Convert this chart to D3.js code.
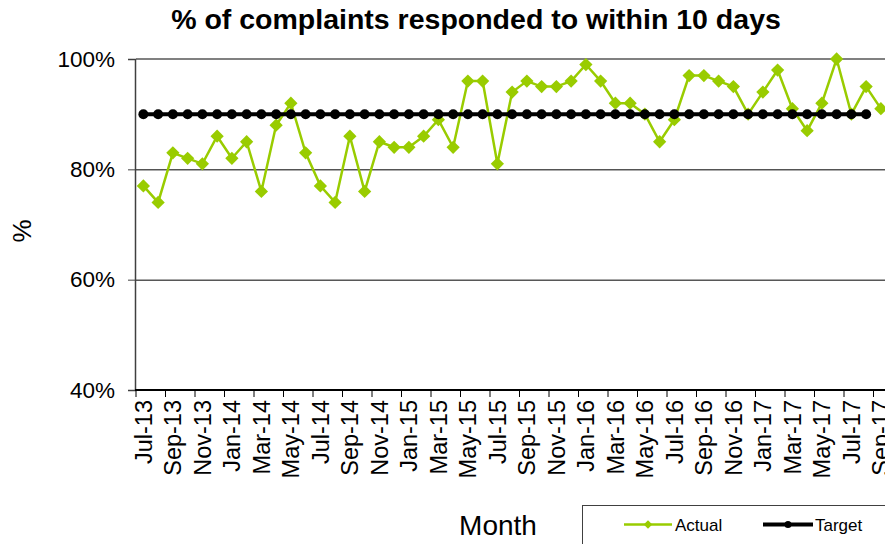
<!DOCTYPE html>
<html lang="en">
<head>
    <meta charset="UTF-8">
    <title>Complaints responded to within 10 days</title>
    <script src="https://d3js.org/d3.v7.min.js"></script>
    <style>
        body { margin: 0; background: #fff; }
        svg { display: block; font-family: "Liberation Sans", Arial, sans-serif; }
    </style>
</head>
<body>
    <div id="chart"></div>

    <script>
        // Months Jul-13 .. Sep-17
        const months = [
            "Jul-13", "Aug-13", "Sep-13", "Oct-13", "Nov-13", "Dec-13",
            "Jan-14", "Feb-14", "Mar-14", "Apr-14", "May-14", "Jun-14",
            "Jul-14", "Aug-14", "Sep-14", "Oct-14", "Nov-14", "Dec-14",
            "Jan-15", "Feb-15", "Mar-15", "Apr-15", "May-15", "Jun-15",
            "Jul-15", "Aug-15", "Sep-15", "Oct-15", "Nov-15", "Dec-15",
            "Jan-16", "Feb-16", "Mar-16", "Apr-16", "May-16", "Jun-16",
            "Jul-16", "Aug-16", "Sep-16", "Oct-16", "Nov-16", "Dec-16",
            "Jan-17", "Feb-17", "Mar-17", "Apr-17", "May-17", "Jun-17",
            "Jul-17", "Aug-17", "Sep-17"
        ];

        const actual = [
            77, 74, 83, 82, 81, 86,
            82, 85, 76, 88, 92, 83,
            77, 74, 86, 76, 85, 84,
            84, 86, 89, 84, 96, 96,
            81, 94, 96, 95, 95, 96,
            99, 96, 92, 92, 90, 85,
            89, 97, 97, 96, 95, 90,
            94, 98, 91, 87, 92, 100,
            90, 95, 91
        ];

        // target runs Jul-13 .. Aug-17
        const target = months.slice(0, 50).map(() => 90);

        const yTicks = [40, 60, 80, 100];

        const W = 885, H = 544;
        const plotLeft = 136, plotTop = 59, plotBottom = 390;
        const band = 14.75;

        const svg = d3.select("#chart")
            .append("svg")
            .attr("width", W)
            .attr("height", H);

        const x = d3.scaleBand()
            .domain(months)
            .range([plotLeft, plotLeft + months.length * band])
            .paddingInner(0).paddingOuter(0);

        const xc = m => x(m) + x.bandwidth() / 2;

        const y = d3.scaleLinear()
            .domain([40, 100])
            .range([plotBottom, plotTop]);

        // Title
        svg.append("text")
            .attr("x", 476)
            .attr("y", 29)
            .attr("text-anchor", "middle")
            .attr("font-size", 28.5)
            .attr("font-weight", "bold")
            .text("% of complaints responded to within 10 days");

        // gridlines
        svg.append("g")
            .selectAll("line")
            .data([60, 80])
            .join("line")
            .attr("x1", plotLeft)
            .attr("x2", W)
            .attr("y1", d => y(d) + 0.5)
            .attr("y2", d => y(d) + 0.5)
            .attr("stroke", "#000")
            .attr("stroke-width", 1);

        // plot area top border
        svg.append("line")
            .attr("x1", plotLeft).attr("x2", W)
            .attr("y1", y(100)).attr("y2", y(100))
            .attr("stroke", "#808080")
            .attr("stroke-width", 2);

        // y axis
        const yAxis = svg.append("g")
            .attr("transform", `translate(${plotLeft - 1},0)`)
            .call(d3.axisLeft(y).tickValues(yTicks).tickFormat(d => d + "%").tickSize(7).tickPadding(13));
        yAxis.select(".domain").attr("stroke", "#404040").attr("stroke-width", 1.5);
        yAxis.selectAll(".tick line").attr("stroke", "#404040");
        yAxis.selectAll("text")
            .attr("font-size", 22.5)
            .attr("font-family", "Liberation Sans, Arial, sans-serif")
            .attr("fill", "#000");

        // x axis
        const xAxis = svg.append("g")
            .attr("transform", `translate(0,${plotBottom})`);
        xAxis.append("line")
            .attr("x1", plotLeft - 1).attr("x2", W)
            .attr("stroke", "#000").attr("stroke-width", 2);
        const labelled = months.filter((m, i) => i % 2 === 0);
        xAxis.selectAll(".tk")
            .data(labelled)
            .join("line")
            .attr("class", "tk")
            .attr("x1", d => x(d)).attr("x2", d => x(d))
            .attr("y1", 0).attr("y2", 7)
            .attr("stroke", "#000");
        xAxis.selectAll(".lbl")
            .data(labelled)
            .join("text")
            .attr("class", "lbl")
            .attr("transform", d => `translate(${xc(d)},10) rotate(-90)`)
            .attr("text-anchor", "end")
            .attr("dy", "0.35em")
            .attr("font-size", 23.5)
            .text(d => d);

        // axis titles
        svg.append("text")
            .attr("transform", "translate(22,231) rotate(-90)")
            .attr("text-anchor", "middle")
            .attr("dy", "0.35em")
            .attr("font-size", 26)
            .text("%");

        svg.append("text")
            .attr("x", 498)
            .attr("y", 535)
            .attr("text-anchor", "middle")
            .attr("font-size", 28)
            .text("Month");

        const green = "#99cc00";
        const diamond = d3.symbol().type(d3.symbolSquare).size(88);

        // Actual series
        const seriesLine = d3.line()
            .x((d, i) => xc(months[i]))
            .y(d => y(d));

        svg.append("path")
            .datum(actual)
            .attr("fill", "none")
            .attr("stroke", green)
            .attr("stroke-width", 2.5)
            .attr("d", seriesLine);

        svg.append("g")
            .selectAll("path")
            .data(actual)
            .join("path")
            .attr("d", diamond)
            .attr("transform", (d, i) => `translate(${xc(months[i])},${y(d)}) rotate(45)`)
            .attr("fill", green);

        // Target series
        svg.append("path")
            .datum(target)
            .attr("fill", "none")
            .attr("stroke", "#000")
            .attr("stroke-width", 4)
            .attr("d", seriesLine);

        svg.append("g")
            .selectAll("circle")
            .data(target)
            .join("circle")
            .attr("cx", (d, i) => xc(months[i]))
            .attr("cy", d => y(d))
            .attr("r", 5)
            .attr("fill", "#000");

        // Legend
        const lg = svg.append("g");
        lg.append("rect")
            .attr("x", 582.5).attr("y", 505.5)
            .attr("width", 320).attr("height", 60)
            .attr("fill", "#fff")
            .attr("stroke", "#404040");

        lg.append("line")
            .attr("x1", 624).attr("x2", 672)
            .attr("y1", 524.5).attr("y2", 524.5)
            .attr("stroke", green).attr("stroke-width", 2.5);
        lg.append("path")
            .attr("d", d3.symbol().type(d3.symbolSquare).size(36))
            .attr("transform", "translate(648,524.5) rotate(45)")
            .attr("fill", green);
        lg.append("text")
            .attr("x", 675).attr("y", 530.5)
            .attr("font-size", 17)
            .text("Actual");

        lg.append("line")
            .attr("x1", 763).attr("x2", 813)
            .attr("y1", 524.5).attr("y2", 524.5)
            .attr("stroke", "#000").attr("stroke-width", 4);
        lg.append("circle")
            .attr("cx", 788).attr("cy", 524.5)
            .attr("r", 3.5)
            .attr("fill", "#000");
        lg.append("text")
            .attr("x", 815).attr("y", 530.5)
            .attr("font-size", 17)
            .text("Target");
    </script>
</body>
</html>
